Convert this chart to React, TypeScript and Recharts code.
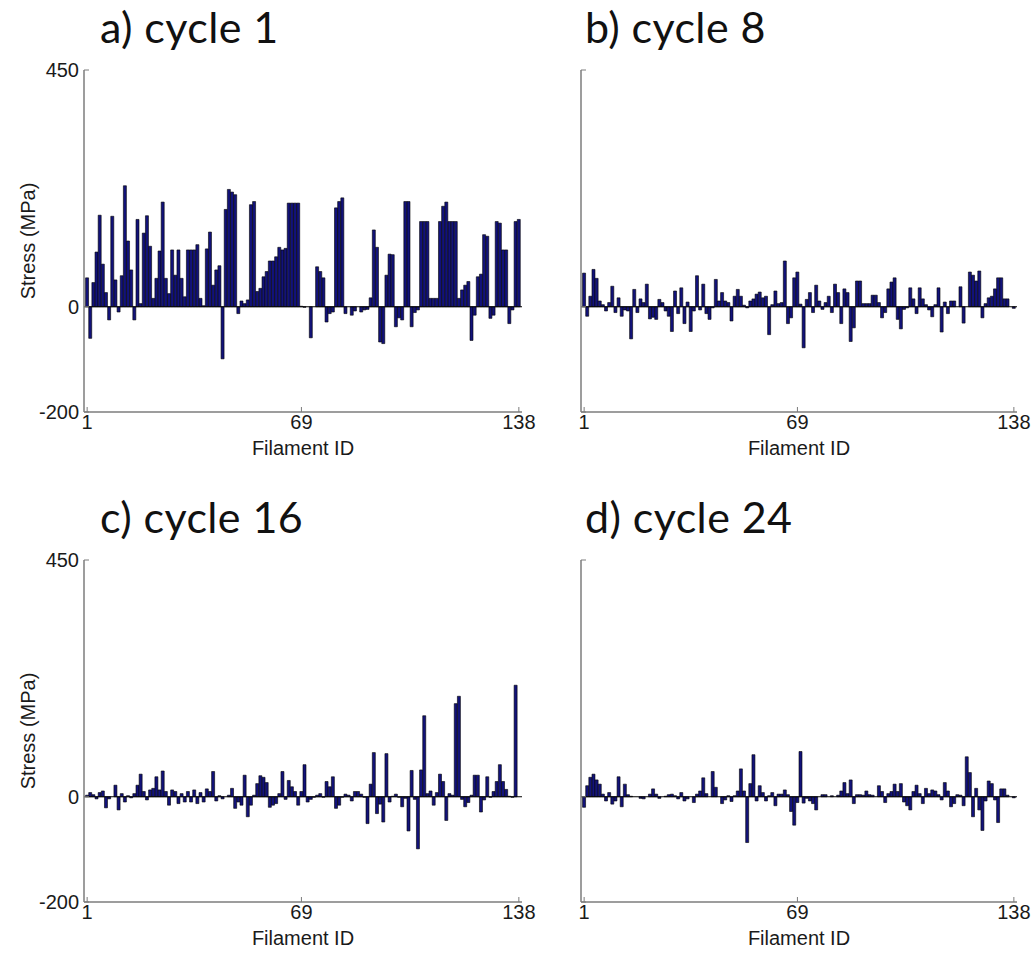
import React from 'react';
import { BarChart, Bar, XAxis, YAxis, ReferenceLine, Label } from 'recharts';

// Filament IDs (x categories)
const filamentIds: number[] = Array.from({ length: 138 }, (_, i) => i + 1);
const xTicks = [1, 69, 138];
const yTicks = [-200, 0, 450];
const yDomain: [number, number] = [-200, 450];
const xDomain: [number, number] = [0, 139];

// Stress (MPa) per filament
const cycle1 = [
  55, -60, 46, 104, 174, 81, 27, -25, 172, 51,
  -10, 59, 230, 125, 70, -25, 166, 6, 140, 173,
  115, 16, 54, 106, 199, 54, 25, 108, 60, 108,
  54, 19, 108, 108, 108, 118, 16, 2, 110, 142,
  41, 70, 78, -99, 185, 223, 218, 213, -13, 11,
  6, 13, 194, 200, 29, 35, 57, 67, 87, 87,
  95, 113, 108, 111, 197, 197, 197, 197, 1, -1,
  0, -59, 0, 76, 67, 55, -29, -13, -10, 188,
  200, 207, -13, 0, -16, -8, 0, -10, -6, -5,
  17, 146, 113, -67, -70, 60, 100, 99, -38, -21,
  -25, 200, 200, -38, -11, -6, 162, 162, 162, 16,
  16, 16, 162, 191, 199, 162, 162, 162, 16, 32,
  41, 48, -64, -16, 57, 62, 137, 134, -22, -16,
  162, 159, 108, 108, -32, -6, 162, 166,
];

const cycle8 = [
  64, -18, 20, 71, 54, 11, 4, -8, 8, 39,
  -11, 17, -18, -6, -8, -61, 33, -11, 15, 8,
  43, -23, -20, -24, 14, 8, -8, -18, -47, 30,
  -13, 36, -32, 9, -47, -8, 59, -6, 43, -13,
  -24, -2, 52, 11, 27, 11, 8, -27, 20, 33,
  20, 3, -2, 11, 15, 24, 28, 17, 20, -53,
  4, 30, 6, 8, 87, -32, -21, 55, 66, 5,
  -78, 14, 27, -11, 41, 11, -5, 8, 20, -11,
  43, 27, -32, 34, 27, -66, -40, 49, 49, 6,
  6, 6, 22, 22, 8, -21, -11, 34, 47, 55,
  -24, -42, -5, -2, 36, 15, -13, 36, 15, 4,
  -6, -19, 4, 36, -48, 9, -13, 11, 11, 0,
  38, -31, 0, 66, 60, 49, 68, -21, 6, 17,
  20, 34, 55, 55, 15, 15, 0, -3,
];

const cycle16 = [
  3, 8, 4, -4, 8, 11, -21, -4, 0, 22,
  -25, 6, -10, 2, -2, 6, 22, 43, 10, -6,
  13, 16, 38, 13, 49, 10, -16, 13, 10, -13,
  6, -10, 10, -10, 13, -13, 8, -10, 15, 10,
  48, -8, 2, -4, 0,
  3, 16, -22, -10, -16, 41, -38, -16, 3, 25,
  40, 37, 27, -20, -16, -13, 6, 48, -5, 31,
  19, 10, -16, 10, 61, -10, -5, -1, 3, 6,
  -1, 29, 19, 38, -22, -16, -1, 5, 3, -8,
  10, 10, 5, -1, -51, 24, 84,
  -32, -14, -48, 82, -10, 1, 5, -1, -19, -3,
  -65, 50, -5, -99, 51, 154, 6, 11, -16, 8,
  43, 29, -45, 6, 3, 177, 191, -5, -19, -11,
  3, 41, 41, -29, -6, 38, -1, 10, 29, 61,
  29, 14, 1, -1, 212, 0,
];

const cycle24 = [
  -20, 21, 37, 43, 32, 24, 5, -8, 8, -14,
  -8, 38, -19, 24, 4, 1, 0, 0, -3, -4,
  0, 5, 15, 5, -3, 0, 1, 4, 5, 2,
  -4, 8, -8, -4, 0, -11, 5, 11, 36, 6,
  0, 48, 18, 0, -13, -6, 2, -9, 2, 11,
  53, 11, -87, 25, 80, -8, 21, 8, -8, 2,
  8, -17, 5, 5, 13, 4, -28, -54, -11,
  86, -12, -3, -8, -13, -25, 0, 4, 4, 0,
  2, 0, 3, 11, 27, 6, 32,
  -13, 4, 4, 3, 11, 4, 3, 0, 21, 10,
  -11, 6, 10, 24, 10, 25, -10, -17, -25, 10,
  22, 6, -13, 16, 6, 13, 11, 4, -6, 27,
  11, -19, -13, 4, 3, -17,
  76, 46, -38, 16, -25, -64, -8, 30, 25, -6,
  -49, 15, 15, 3, 0, -2,
];

const panelTitles = ['a) cycle 1', 'b) cycle 8', 'c) cycle 16', 'd) cycle 24'];
const panelSeries = [cycle1, cycle8, cycle16, cycle24];

const AXIS_COLOR = '#7c7c7c';
const TICK_FONT = { fontFamily: '"Liberation Sans", Arial, sans-serif', fontSize: 20, fill: '#1a1a1a' };
const EmptyTick = () => <g />;

type PanelProps = {
  values: number[];
  title: string;
  left: number;
  top: number;
  width: number;
  showY: boolean;
  titleX: number;
};

function Panel({ values, title, left, top, width, showY, titleX }: PanelProps) {
  const rows = values.map((v, i) => ({ id: filamentIds[i], stress: v }));
  return (
    <>
      <div style={{ position: 'absolute', left, top }}>
        <BarChart width={width} height={475} data={rows} margin={{ top: 70, right: 26, left: 0, bottom: 0 }}>
          <XAxis
            xAxisId="bottom"
            dataKey="id"
            type="number"
            domain={xDomain}
            ticks={xTicks}
            interval={0}
            height={63}
            tickSize={-5}
            tickMargin={8}
            tick={TICK_FONT}
            axisLine={{ stroke: AXIS_COLOR, strokeWidth: 1.5 }}
            tickLine={{ stroke: AXIS_COLOR }}
          >
            <Label
              value="Filament ID"
              position="insideBottom"
              offset={20}
              style={{ ...TICK_FONT, textAnchor: 'middle' }}
            />
          </XAxis>
          <XAxis
            xAxisId="top"
            orientation="top"
            dataKey="id"
            type="number"
            domain={xDomain}
            ticks={xTicks}
            interval={0}
            height={0}
            tickSize={-5}
            tick={EmptyTick}
            axisLine={{ stroke: AXIS_COLOR, strokeWidth: 1.5 }}
            tickLine={{ stroke: AXIS_COLOR }}
          />
          <YAxis
            yAxisId="left"
            type="number"
            domain={yDomain}
            ticks={yTicks}
            interval={0}
            width={84}
            tickSize={-5}
            tickMargin={10}
            tick={showY ? TICK_FONT : EmptyTick}
            axisLine={{ stroke: AXIS_COLOR, strokeWidth: 1.5 }}
            tickLine={{ stroke: AXIS_COLOR }}
          >
            {showY && (
              <Label
                value="Stress (MPa)"
                angle={-90}
                position="insideLeft"
                offset={28}
                style={{ ...TICK_FONT, textAnchor: 'middle' }}
              />
            )}
          </YAxis>
          <YAxis
            yAxisId="right"
            orientation="right"
            type="number"
            domain={yDomain}
            ticks={yTicks}
            interval={0}
            width={0}
            tickSize={-5}
            tick={EmptyTick}
            axisLine={{ stroke: AXIS_COLOR, strokeWidth: 1.5 }}
            tickLine={{ stroke: AXIS_COLOR }}
          />
          <Bar
            xAxisId="bottom"
            yAxisId="left"
            dataKey="stress"
            barSize={3}
            fill="#12127a"
            stroke="#000"
            strokeWidth={0.6}
            isAnimationActive={false}
          />
          <ReferenceLine xAxisId="bottom" yAxisId="left" y={0} stroke="#000" strokeWidth={1.2} />
        </BarChart>
      </div>
      <svg width={320} height={60} style={{ position: 'absolute', left: titleX, top }}>
        <text x={0} y={43} fontFamily='Lato, "Open Sans", sans-serif' fontSize={43} letterSpacing={0.4} fill="#111">
          {title}
        </text>
      </svg>
    </>
  );
}

export default function App() {
  return (
    <div style={{ position: 'relative', width: 1031, height: 955, background: '#fff', overflow: 'hidden' }}>
      <style>{'body{margin:0;background:#fff}'}</style>
      <Panel values={panelSeries[0]} title={panelTitles[0]} left={0} top={0} width={548} showY={true} titleX={100} />
      <Panel values={panelSeries[1]} title={panelTitles[1]} left={497} top={0} width={546} showY={false} titleX={585} />
      <Panel values={panelSeries[2]} title={panelTitles[2]} left={0} top={490} width={548} showY={true} titleX={100} />
      <Panel values={panelSeries[3]} title={panelTitles[3]} left={497} top={490} width={546} showY={false} titleX={585} />
    </div>
  );
}
